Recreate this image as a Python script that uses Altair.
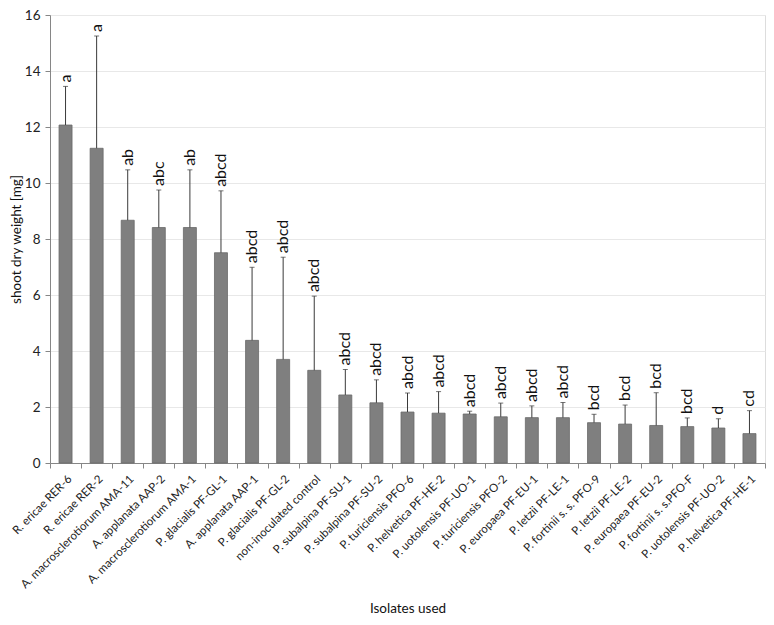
import altair as alt
import pandas as pd

isolates = [
    "R. ericae RER-6", "R. ericae RER-2", "A. macrosclerotiorum AMA-11",
    "A. applanata AAP-2", "A. macrosclerotiorum AMA-1", "P. glacialis PF-GL-1",
    "A. applanata AAP-1", "P. glacialis PF-GL-2", "non-inoculated control",
    "P. subalpina PF-SU-1", "P. subalpina PF-SU-2", "P. turiciensis PFO-6",
    "P. helvetica PF-HE-2", "P. uotolensis PF-UO-1", "P. turiciensis PFO-2",
    "P. europaea PF-EU-1", "P. letzii PF-LE-1", "P. fortinii s. s. PFO-9",
    "P. letzii PF-LE-2", "P. europaea PF-EU-2", "P. fortinii s. s.PFO-F",
    "P. uotolensis PF-UO-2", "P. helvetica PF-HE-1",
]
means = [12.07, 11.24, 8.67, 8.41, 8.41, 7.51, 4.38, 3.70, 3.31, 2.43, 2.15,
         1.82, 1.78, 1.75, 1.65, 1.62, 1.62, 1.44, 1.39, 1.34, 1.30, 1.25, 1.05]
upper = [13.45, 15.25, 10.47, 9.75, 10.47, 9.72, 6.99, 7.35, 5.96, 3.34, 2.97,
         2.50, 2.55, 1.85, 2.14, 2.04, 2.16, 1.74, 2.07, 2.51, 1.61, 1.58, 1.87]
letters = ["a", "a", "ab", "abc", "ab", "abcd", "abcd", "abcd", "abcd", "abcd",
           "abcd", "abcd", "abcd", "abcd", "abcd", "abcd", "abcd", "bcd", "bcd",
           "bcd", "bcd", "d", "cd"]

df = pd.DataFrame({"isolate": isolates, "mean": means, "upper": upper,
                   "letter": letters})

FONT = "Lato"

x_enc = alt.X("isolate:N", sort=isolates, title="Isolates used",
              scale=alt.Scale(paddingInner=0, paddingOuter=0),
              axis=alt.Axis(labelAngle=315, labelFontSize=11.5, labelColor="#222222",
                            labelFont=FONT, titleFont=FONT, titleFontSize=13.5,
                            titleFontWeight="normal", titleColor="#111111",
                            titlePadding=11, tickBand="extent", tickSize=5,
                            tickColor="#868686", domainColor="#868686",
                            labelPadding=5, grid=False))
y_scale = alt.Scale(domain=[0, 16], nice=False)

bars = alt.Chart(df).mark_bar(size=13, fill="#7f7f7f", stroke="#6a6a6a",
                              strokeWidth=0.8).encode(
    x=x_enc,
    y=alt.Y("mean:Q", scale=y_scale, title="shoot dry weight [mg]",
            axis=alt.Axis(values=list(range(0, 17, 2)), labelFontSize=13.5,
                          labelFont=FONT, labelColor="#222222", titleFont=FONT,
                          titleFontSize=13.5, titleFontWeight="normal",
                          titleColor="#111111", titlePadding=1,
                          tickSize=5, tickColor="#868686", domainColor="#868686",
                          gridColor="#e8e8e8", labelPadding=5)),
)

err = alt.Chart(df).mark_rule(color="#3a3a3a", strokeWidth=1).encode(
    x=alt.X("isolate:N", sort=isolates),
    y="mean:Q",
    y2="upper:Q",
)

caps = alt.Chart(df).mark_tick(color="#3a3a3a", size=5, thickness=1,
                               orient="horizontal").encode(
    x=alt.X("isolate:N", sort=isolates),
    y="upper:Q",
)

text = alt.Chart(df).mark_text(angle=270, align="left", baseline="middle",
                               dx=4, fontSize=16, font=FONT,
                               color="#111111").encode(
    x=alt.X("isolate:N", sort=isolates),
    y="upper:Q",
    text="letter:N",
)

chart = alt.layer(bars, err, caps, text).properties(
    width=715, height=448,
    autosize=alt.AutoSizeParams(type="none"),
    padding={"left": 42, "top": 7, "right": 1, "bottom": 154},
).configure_view(stroke=None).configure(background="white")

chart.save("out.html", embed_options={"renderer": "svg", "actions": False})
